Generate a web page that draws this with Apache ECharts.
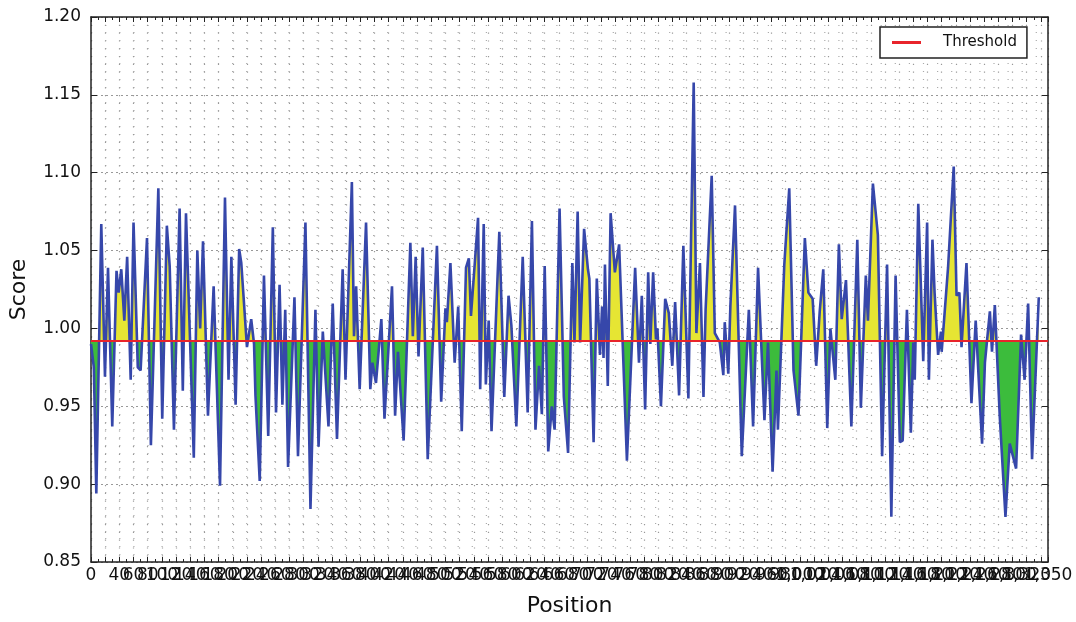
<!DOCTYPE html>
<html>
<head>
<meta charset="utf-8">
<script src="https://cdn.jsdelivr.net/npm/echarts@6/dist/echarts.min.js"></script>
<style>
html,body{margin:0;padding:0;background:#fff;}
#chart{width:1076px;height:622px;}
</style>
</head>
<body>
<div id="chart"></div>
<script>
const positions = [0,4,7.5,14.5,19.7,24,30,36,39,42.7,47,51,56,60,66,70,79,84.5,95,100.5,107,111,117,125,129.5,134,145,150,154,158,165,173,182,189,194,198,204,209,212,220,226,230,232,238,244,250,256.5,261,266,270,274,278,287,292,302.5,309.6,316.6,321,327,335,341,347,355,359,368,371,374,379,388,394,397,402,409.6,414,424.6,429,433,441,450.5,454,458,462,468,475,488,494,500,502,507,513,518,523,529,533,536,546,549,554,557,561,565,576,583,589,593,600,609,616,622,627,632,636,640,645,650,654,661,667,673,679,682,686.5,690,695.6,701,703,709,713.5,718,721,723,725,729,733,739,745,756,767.6,773,777,781.7,786,789,793,797,799,804,810,815,820,824,829.6,835.6,842.7,850.2,854,859,864,867,875.6,880,887,892,894,899,902,908.5,918,928,934,941,950,955,961.5,967,969,978,985,991,998,1007,1012,1018,1023,1028,1033,1038.6,1043,1050,1055,1059,1065,1072.6,1081,1086,1093,1096,1103,1110,1116,1123,1129,1135,1141,1145,1151,1156.5,1160,1162,1167,1174,1179.5,1182,1187,1190,1195,1199,1200,1209,1217,1221,1225,1228,1235,1242,1248,1257,1261,1268,1271,1275,1282,1290,1296,1305,1312,1317,1322,1327.5,1337];
const scores = [0.990,0.975,0.894,1.067,0.969,1.039,0.937,1.037,1.023,1.038,1.005,1.046,0.967,1.068,0.975,0.973,1.058,0.925,1.090,0.942,1.066,1.040,0.935,1.077,0.960,1.074,0.917,1.050,1.000,1.056,0.944,1.027,0.899,1.084,0.967,1.046,0.951,1.051,1.042,0.988,1.006,0.990,0.957,0.902,1.034,0.931,1.065,0.946,1.028,0.951,1.012,0.911,1.020,0.918,1.068,0.884,1.012,0.924,0.998,0.937,1.016,0.929,1.038,0.967,1.094,0.995,1.027,0.961,1.068,0.961,0.978,0.965,1.006,0.942,1.027,0.944,0.985,0.928,1.055,0.995,1.046,0.982,1.052,0.916,1.053,0.953,1.013,1.004,1.042,0.978,1.014,0.934,1.039,1.045,1.008,1.071,0.961,1.067,0.964,1.005,0.934,1.062,0.956,1.021,1.002,0.937,1.046,0.946,1.069,0.935,0.976,0.945,1.040,0.921,0.950,0.935,1.077,0.956,0.920,1.042,0.991,1.075,0.991,1.064,1.038,1.032,0.927,1.032,0.983,1.014,0.981,1.041,0.963,1.074,1.036,1.054,0.915,1.039,0.978,1.021,0.948,1.036,0.990,1.036,0.993,1.000,0.950,1.019,1.010,0.976,1.017,0.957,1.053,0.955,1.158,0.997,1.042,0.956,1.012,1.098,0.997,0.991,0.970,1.004,0.971,1.015,1.079,0.918,1.012,0.937,1.039,0.941,0.991,0.908,0.973,0.935,1.041,1.090,0.973,0.944,1.058,1.023,1.019,0.976,1.011,1.038,0.936,1.000,0.967,1.054,1.006,1.031,0.937,1.057,0.949,1.034,1.005,1.093,1.060,0.918,1.041,0.879,1.034,0.927,0.928,1.012,0.933,0.991,0.967,1.080,0.979,1.068,0.967,1.057,1.023,0.983,0.998,0.985,1.039,1.104,1.021,1.023,0.988,1.042,0.952,1.005,0.926,0.978,1.011,0.985,1.015,0.943,0.879,0.926,0.910,0.996,0.967,1.016,0.916,1.020];
const threshold = 0.992;
const xRange = [0, 1350];
const xTickStep = 20;
const yRange = [0.85, 1.20];
const yTickStep = 0.05;

const xLabelValues = [];
for (let v = xRange[0]; v < xRange[1]; v += xTickStep) xLabelValues.push(v);
xLabelValues.push(xRange[1]);

const points = positions.map((p, i) => [p, scores[i]]);
const font = 'DejaVu Sans';

const chart = echarts.init(document.getElementById('chart'));
const xCommon = {
  type: 'value', min: xRange[0], max: xRange[1], interval: xTickStep,
  axisLine: {show: true, onZero: false, lineStyle: {color: '#222', width: 1.5}},
  axisTick: {show: true, inside: true, length: 5, lineStyle: {color: '#222', width: 1}},
  minorTick: {show: true, splitNumber: 2, length: 3, lineStyle: {color: '#222', width: 1}}
};
const yCommon = {
  type: 'value', min: yRange[0], max: yRange[1], interval: yTickStep,
  axisLine: {show: true, onZero: false, lineStyle: {color: '#222', width: 1.5}},
  axisTick: {show: true, inside: true, length: 6, lineStyle: {color: '#222', width: 1}}
};
chart.setOption({
  animation: false,
  backgroundColor: '#fff',
  grid: {left: 90, right: 28, top: 17, bottom: 60, show: false},
  legend: {
    data: [{name: 'Threshold', icon: 'rect'}],
    left: 880, top: 27,
    itemWidth: 29, itemHeight: 3,
    padding: [8, 10, 8, 12],
    borderColor: '#222', borderWidth: 1.5, backgroundColor: '#fff',
    textStyle: {fontFamily: font, fontSize: 15, color: '#111', padding: [0, 0, 0, 17]}
  },
  xAxis: [
    Object.assign({}, xCommon, {
      position: 'bottom',
      name: 'Position', nameLocation: 'middle', nameGap: 33,
      nameTextStyle: {fontFamily: font, fontSize: 22, color: '#111'},
      axisLabel: {fontFamily: font, fontSize: 17, color: '#111', margin: 5, hideOverlap: false,
        showMinLabel: true, showMaxLabel: true, customValues: xLabelValues},
      splitLine: {show: true, lineStyle: {color: '#999', width: 1.2, type: [1.2, 6.6]}}
    }),
    Object.assign({}, xCommon, {
      position: 'top', axisLabel: {show: false}, splitLine: {show: false}
    })
  ],
  yAxis: [
    Object.assign({}, yCommon, {
      position: 'left',
      name: 'Score', nameLocation: 'middle', nameGap: 61, nameRotate: 90,
      nameTextStyle: {fontFamily: font, fontSize: 22, color: '#111'},
      axisLabel: {fontFamily: font, fontSize: 17, color: '#111', margin: 10,
        formatter: v => v.toFixed(2)},
      splitLine: {show: true, lineStyle: {color: '#999', width: 1.2, type: [2, 3]}},
      minorSplitLine: {show: true, lineStyle: {color: '#aaa', width: 1.2, type: [1.2, 12.9]}},
      minorTick: {show: false, splitNumber: 10}
    }),
    Object.assign({}, yCommon, {
      position: 'right', axisLabel: {show: false}, splitLine: {show: false}
    })
  ],
  visualMap: {
    type: 'piecewise', show: false, seriesIndex: 0, dimension: 1,
    pieces: [
      {gt: threshold, lte: 2, color: '#e6e533'},
      {gte: 0, lte: threshold, color: '#3cbc3c'}
    ]
  },
  series: [
    {
      type: 'line', data: points, symbol: 'none', silent: true, z: 1,
      lineStyle: {width: 0, opacity: 0},
      areaStyle: {origin: threshold, opacity: 1}
    },
    {
      type: 'line', name: 'Score', data: points, symbol: 'none', z: 3,
      lineStyle: {width: 2.6, color: '#3647aa'}, itemStyle: {color: '#3647aa'}
    },
    {
      type: 'line', name: 'Threshold', data: [[xRange[0], threshold], [xRange[1], threshold]],
      symbol: 'none', z: 4,
      lineStyle: {width: 2, color: '#e8242b'}, itemStyle: {color: '#e8242b'}
    }
  ]
});
</script>
</body>
</html>
